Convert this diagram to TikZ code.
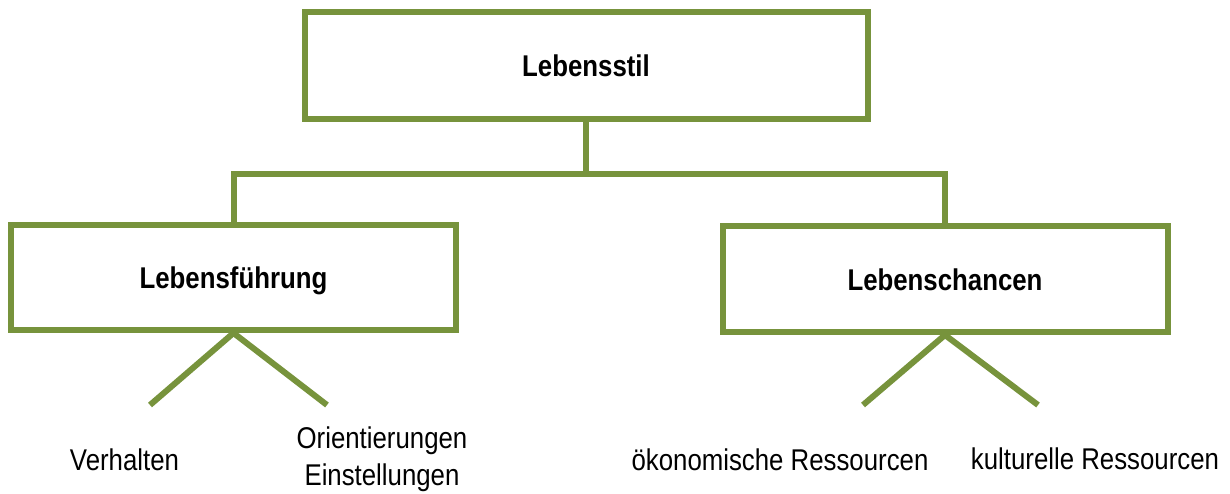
\documentclass[tikz,border=0pt]{standalone}
\usepackage{fontspec}
\setmainfont{Liberation Sans}
\definecolor{olive}{HTML}{77933C}
\newcommand{\narrow}[1]{\scalebox{0.86}[1]{#1}}
\begin{document}
\begin{tikzpicture}[x=1pt,y=-1pt,
  box/.style={draw=olive, line width=6pt, fill=white, inner sep=0pt, outer sep=0pt,
    text height=22pt, text depth=0pt,
    font=\fontsize{30}{37}\selectfont\bfseries},
  leaf/.style={anchor=base, inner sep=0pt, align=center,
    font=\fontsize{30}{37}\selectfont},
  link/.style={draw=olive, line width=6pt, line join=miter}]
  \useasboundingbox (0,0) rectangle (1230,493);

  % boxes
  \node[box, minimum width=563pt, minimum height=107pt] (stil) at (586,65.5) {\narrow{Lebensstil}};
  \node[box, minimum width=445pt, minimum height=105.5pt] (fuehr) at (233.5,277.25) {\narrow{Lebensführung}};
  \node[box, minimum width=445pt, minimum height=106pt] (chanc) at (945,279) {\narrow{Lebenschancen}};

  % tree connections
  \coordinate (j) at (586,173.5);
  \draw[link] (stil.south) -- (j);
  \draw[link] (fuehr.north) |- (j) -| (chanc.north);

  % branch ends
  \coordinate (f0) at ([yshift=-3pt]fuehr.south);
  \coordinate (c0) at ([yshift=-3pt]chanc.south);
  \coordinate (f1) at (150,405);
  \coordinate (f2) at (327,405);
  \coordinate (c1) at (863,405);
  \coordinate (c2) at (1038,405);
  \draw[link] (f0) -- (f1);
  \draw[link] (f0) -- (f2);
  \draw[link] (c0) -- (c1);
  \draw[link] (c0) -- (c2);

  % leaf labels
  \node[leaf] (verh) at (124.5,470) {\narrow{Verhalten}};
  \node[leaf] (orient) at (382,485.5) {\narrow{Orientierungen}\\\narrow{Einstellungen}};
  \node[leaf] (oeko) at (780,470) {\narrow{ökonomische Ressourcen}};
  \node[leaf] (kult) at (1095,469) {\narrow{kulturelle Ressourcen}};
\end{tikzpicture}
\end{document}
